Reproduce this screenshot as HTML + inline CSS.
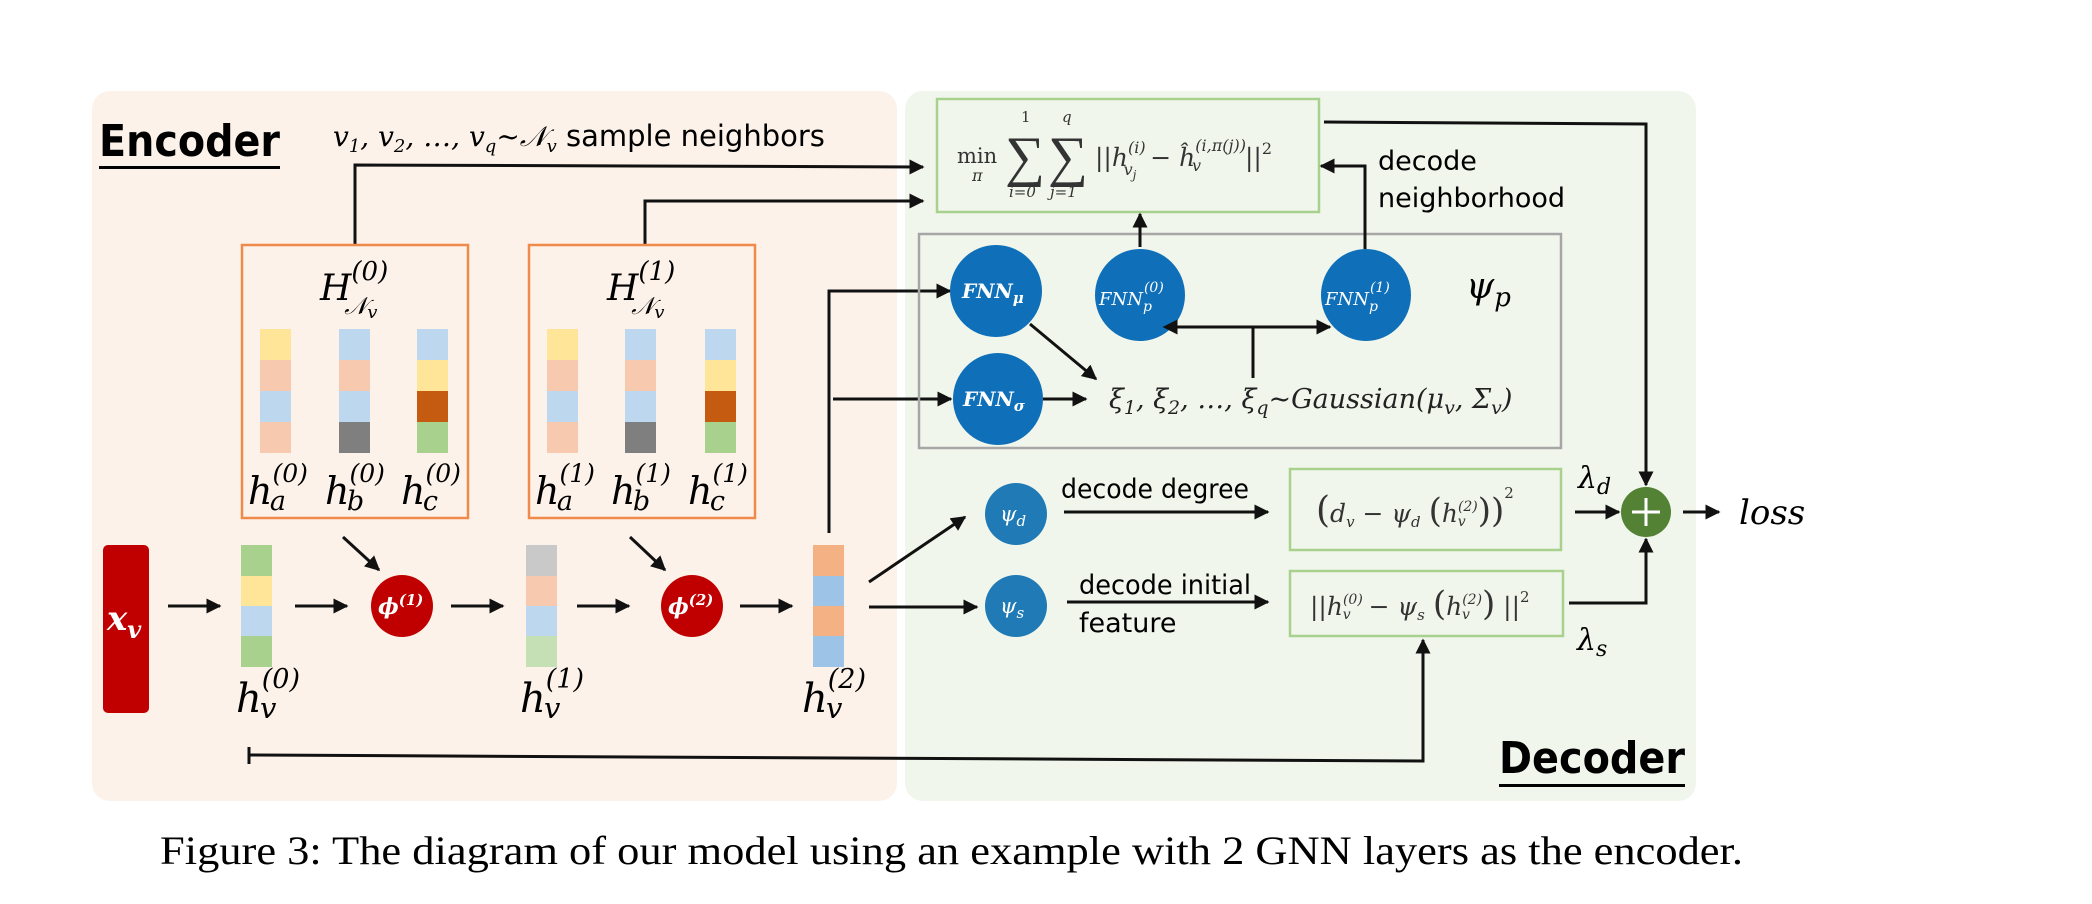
<!DOCTYPE html>
<html><head><meta charset="utf-8"><style>
html,body{margin:0;padding:0;background:#fff}
svg{display:block}
.m{font-family:"DejaVu Serif","Liberation Serif",serif;font-style:italic}
.s{font-family:"DejaVu Sans","Liberation Sans",sans-serif}
</style></head><body>
<svg width="2092" height="904" viewBox="0 0 2092 904" xmlns="http://www.w3.org/2000/svg">
<defs>
<marker id="a" viewBox="0 0 10 10" refX="9" refY="5" markerWidth="5" markerHeight="5" orient="auto"><path d="M0,0 L10,5 L0,10 z" fill="#111"/></marker>
<marker id="as" viewBox="0 0 10 10" refX="1" refY="5" markerWidth="5" markerHeight="5" orient="auto-start-reverse"><path d="M0,0 L10,5 L0,10 z" fill="#111"/></marker>
</defs>
<rect x="92" y="91" width="805" height="710" rx="18" fill="#fcf2ea"/>
<rect x="905" y="91" width="791" height="710" rx="18" fill="#f0f6ec"/>

<text x="99" y="156" class="s" font-weight="bold" font-size="44" fill="#000" textLength="181" lengthAdjust="spacingAndGlyphs">Encoder</text>
<rect x="99" y="166" width="181" height="3" fill="#000"/>
<text x="333" y="146" font-size="28" fill="#000"><tspan class="m">v</tspan><tspan class="m" font-size="18" dy="6">1</tspan><tspan class="m" dy="-6">, v</tspan><tspan class="m" font-size="18" dy="6">2</tspan><tspan class="m" dy="-6">, …, v</tspan><tspan class="m" font-size="18" dy="6">q</tspan><tspan class="m" dy="-6">~𝒩</tspan><tspan class="m" font-size="18" dy="6">v</tspan><tspan class="s" dy="-6" font-size="29">  sample neighbors</tspan></text>

<g stroke="#111" stroke-width="3" fill="none">
<polyline points="355,245 355,165 923,167" marker-end="url(#a)"/>
<polyline points="645,245 645,201 923,201" marker-end="url(#a)"/>
</g>

<rect x="242" y="245" width="226" height="273" fill="none" stroke="#f08a4b" stroke-width="2.5"/>
<rect x="529" y="245" width="226" height="273" fill="none" stroke="#f08a4b" stroke-width="2.5"/>
<text x="320" y="300" class="m" font-size="36">H<tspan font-size="26" dy="-20">(0)</tspan><tspan font-size="24" dx="-44" dy="34">𝒩</tspan><tspan font-size="18" dy="4">v</tspan></text>
<text x="607" y="300" class="m" font-size="36">H<tspan font-size="26" dy="-20">(1)</tspan><tspan font-size="24" dx="-44" dy="34">𝒩</tspan><tspan font-size="18" dy="4">v</tspan></text>

<g>
<rect x="260" y="329" width="31" height="31" fill="#fee598"/><rect x="260" y="360" width="31" height="31" fill="#f7c9ae"/><rect x="260" y="391" width="31" height="31" fill="#bcd7ee"/><rect x="260" y="422" width="31" height="31" fill="#f7c9ae"/>
<rect x="339" y="329" width="31" height="31" fill="#bcd7ee"/><rect x="339" y="360" width="31" height="31" fill="#f7c9ae"/><rect x="339" y="391" width="31" height="31" fill="#bcd7ee"/><rect x="339" y="422" width="31" height="31" fill="#7f7f7f"/>
<rect x="417" y="329" width="31" height="31" fill="#bcd7ee"/><rect x="417" y="360" width="31" height="31" fill="#fee598"/><rect x="417" y="391" width="31" height="31" fill="#c55a11"/><rect x="417" y="422" width="31" height="31" fill="#a9d18e"/>
<rect x="547" y="329" width="31" height="31" fill="#fee598"/><rect x="547" y="360" width="31" height="31" fill="#f7c9ae"/><rect x="547" y="391" width="31" height="31" fill="#bcd7ee"/><rect x="547" y="422" width="31" height="31" fill="#f7c9ae"/>
<rect x="625" y="329" width="31" height="31" fill="#bcd7ee"/><rect x="625" y="360" width="31" height="31" fill="#f7c9ae"/><rect x="625" y="391" width="31" height="31" fill="#bcd7ee"/><rect x="625" y="422" width="31" height="31" fill="#7f7f7f"/>
<rect x="705" y="329" width="31" height="31" fill="#bcd7ee"/><rect x="705" y="360" width="31" height="31" fill="#fee598"/><rect x="705" y="391" width="31" height="31" fill="#c55a11"/><rect x="705" y="422" width="31" height="31" fill="#a9d18e"/>
</g>
<g class="m" font-size="38">
<text x="248" y="504">h<tspan font-size="25" dy="-22">(0)</tspan><tspan font-size="27" dx="-38" dy="28">a</tspan></text>
<text x="325" y="504">h<tspan font-size="25" dy="-22">(0)</tspan><tspan font-size="27" dx="-38" dy="28">b</tspan></text>
<text x="401" y="504">h<tspan font-size="25" dy="-22">(0)</tspan><tspan font-size="27" dx="-38" dy="28">c</tspan></text>
<text x="535" y="504">h<tspan font-size="25" dy="-22">(1)</tspan><tspan font-size="27" dx="-38" dy="28">a</tspan></text>
<text x="611" y="504">h<tspan font-size="25" dy="-22">(1)</tspan><tspan font-size="27" dx="-38" dy="28">b</tspan></text>
<text x="688" y="504">h<tspan font-size="25" dy="-22">(1)</tspan><tspan font-size="27" dx="-38" dy="28">c</tspan></text>
</g>

<rect x="103" y="545" width="46" height="168" rx="5" fill="#c00000"/>
<text x="107" y="630" class="m" font-weight="bold" font-size="34" fill="#fff">x<tspan font-size="24" dy="8">v</tspan></text>
<g>
<rect x="241" y="545" width="31" height="31" fill="#a9d18e"/><rect x="241" y="576" width="31" height="30" fill="#fee598"/><rect x="241" y="606" width="31" height="30" fill="#bcd7ee"/><rect x="241" y="636" width="31" height="31" fill="#a9d18e"/>
<rect x="526" y="545" width="31" height="31" fill="#c9c9c9"/><rect x="526" y="576" width="31" height="30" fill="#f7c9ae"/><rect x="526" y="606" width="31" height="30" fill="#bcd7ee"/><rect x="526" y="636" width="31" height="31" fill="#c5e0b4"/>
<rect x="813" y="545" width="31" height="31" fill="#f4b183"/><rect x="813" y="576" width="31" height="30" fill="#9dc3e6"/><rect x="813" y="606" width="31" height="30" fill="#f4b183"/><rect x="813" y="636" width="31" height="31" fill="#9dc3e6"/>
</g>
<circle cx="402" cy="606" r="31" fill="#c00000"/>
<circle cx="692" cy="606" r="31" fill="#c00000"/>
<text x="378" y="614" class="m" font-weight="bold" font-size="22" fill="#fff">ϕ<tspan font-size="15" dy="-9">(1)</tspan></text>
<text x="668" y="614" class="m" font-weight="bold" font-size="22" fill="#fff">ϕ<tspan font-size="15" dy="-9">(2)</tspan></text>
<g class="m" font-size="40">
<text x="236" y="712">h<tspan font-size="27" dy="-24">(0)</tspan><tspan font-size="29" dx="-40" dy="30">v</tspan></text>
<text x="520" y="712">h<tspan font-size="27" dy="-24">(1)</tspan><tspan font-size="29" dx="-40" dy="30">v</tspan></text>
<text x="802" y="712">h<tspan font-size="27" dy="-24">(2)</tspan><tspan font-size="29" dx="-40" dy="30">v</tspan></text>
</g>
<g stroke="#111" stroke-width="3" fill="none">
<line x1="168" y1="606" x2="220" y2="606" marker-end="url(#a)"/>
<line x1="295" y1="606" x2="347" y2="606" marker-end="url(#a)"/>
<line x1="451" y1="606" x2="503" y2="606" marker-end="url(#a)"/>
<line x1="577" y1="606" x2="629" y2="606" marker-end="url(#a)"/>
<line x1="740" y1="606" x2="792" y2="606" marker-end="url(#a)"/>
<line x1="343" y1="537" x2="379" y2="570" marker-end="url(#a)"/>
<line x1="630" y1="537" x2="665" y2="570" marker-end="url(#a)"/>
<polyline points="829,533 829,291 950,291" marker-end="url(#a)"/>
<line x1="833" y1="399" x2="951" y2="399" marker-end="url(#a)"/>
<line x1="869" y1="582" x2="965" y2="517" marker-end="url(#a)"/>
<line x1="869" y1="607" x2="977" y2="607" marker-end="url(#a)"/>
<polyline points="249,755 1423,761 1423,640" marker-end="url(#a)"/>
<line x1="249" y1="747" x2="249" y2="764"/>
</g>

<rect x="937" y="99" width="382" height="113" fill="none" stroke="#a9d18e" stroke-width="2.5"/>
<g font-family="DejaVu Serif, Liberation Serif, serif" fill="#333">
<text x="957" y="163" font-size="21">min</text>
<text x="972" y="181" font-size="16" font-style="italic">π</text>
<text x="1005" y="175" font-size="56" font-family="Liberation Serif, serif">∑</text>
<text x="1048" y="175" font-size="56" font-family="Liberation Serif, serif">∑</text>
<text x="1021" y="122" font-size="15">1</text>
<text x="1062" y="122" font-size="15" font-style="italic">q</text>
<text x="1009" y="197" font-size="15" font-style="italic">i=0</text>
<text x="1050" y="197" font-size="15" font-style="italic">j=1</text>
<text x="1095" y="166" font-size="25" font-style="italic">||h<tspan font-size="16" dy="-13">(i)</tspan><tspan font-size="16" dx="-22" dy="22">v</tspan><tspan font-size="12" dy="4">j</tspan><tspan dx="6" dy="-13"> − ĥ</tspan><tspan font-size="16" dy="-15">(i,π(j))</tspan><tspan font-size="16" dx="-54" dy="20">v</tspan><tspan dx="44" dy="-5">||</tspan><tspan font-size="16" dy="-12" font-style="normal">2</tspan></text>
</g>

<rect x="919" y="234" width="642" height="214" fill="none" stroke="#a6a6a6" stroke-width="2.5"/>
<text x="1466" y="298" class="m" font-size="36">ψ<tspan font-size="26" dy="8">p</tspan></text>
<g fill="#0f6fb8">
<ellipse cx="996" cy="291" rx="46" ry="46"/>
<ellipse cx="998" cy="399" rx="45" ry="46"/>
<ellipse cx="1140" cy="295" rx="45" ry="46"/>
<ellipse cx="1366" cy="295" rx="45" ry="46"/>
</g>
<g class="m" font-weight="bold" fill="#fff">
<text x="962" y="298" font-size="20">FNN<tspan font-size="15" dy="5">μ</tspan></text>
<text x="963" y="406" font-size="20">FNN<tspan font-size="15" dy="5">σ</tspan></text>
</g>
<g class="m" fill="#fff">
<text x="1099" y="305" font-size="18">FNN<tspan font-size="14" dy="6">p</tspan><tspan font-size="14" dx="-8" dy="-19">(0)</tspan></text>
<text x="1325" y="305" font-size="18">FNN<tspan font-size="14" dy="6">p</tspan><tspan font-size="14" dx="-8" dy="-19">(1)</tspan></text>
</g>
<text x="1109" y="408" class="m" font-size="27" fill="#222">ξ<tspan font-size="19" dy="6">1</tspan><tspan dy="-6">, ξ</tspan><tspan font-size="19" dy="6">2</tspan><tspan dy="-6">, …, ξ</tspan><tspan font-size="19" dy="6">q</tspan><tspan dy="-6">~Gaussian(μ</tspan><tspan font-size="19" dy="6">v</tspan><tspan dy="-6">, Σ</tspan><tspan font-size="19" dy="6">v</tspan><tspan dy="-6">)</tspan></text>
<g stroke="#111" stroke-width="3" fill="none">
<line x1="1030" y1="324" x2="1096" y2="379" marker-end="url(#a)"/>
<line x1="1043" y1="399" x2="1086" y2="399" marker-end="url(#a)"/>
<line x1="1176" y1="327" x2="1330" y2="327" marker-start="url(#as)" marker-end="url(#a)"/>
<line x1="1253" y1="327" x2="1253" y2="378"/>
<line x1="1140" y1="247" x2="1140" y2="214" marker-end="url(#a)"/>
<polyline points="1365,249 1365,166 1321,166" marker-end="url(#a)"/>
<polyline points="1324,122 1646,124 1646,485" marker-end="url(#a)"/>
<polyline points="1569,603 1646,603 1646,539" marker-end="url(#a)"/>
<line x1="1064" y1="512" x2="1268" y2="512" marker-end="url(#a)"/>
<line x1="1067" y1="602" x2="1268" y2="602" marker-end="url(#a)"/>
<line x1="1575" y1="512" x2="1619" y2="512" marker-end="url(#a)"/>
<line x1="1683" y1="512" x2="1719" y2="512" marker-end="url(#a)"/>
</g>
<text x="1378" y="170" class="s" font-size="27">decode</text>
<text x="1378" y="207" class="s" font-size="27">neighborhood</text>

<circle cx="1016" cy="514" r="31" fill="#1f7ab5"/>
<circle cx="1016" cy="606" r="31" fill="#1f7ab5"/>
<text x="1000" y="521" class="m" font-size="21" fill="#fff">ψ<tspan font-size="15" dy="5">d</tspan></text>
<text x="1000" y="613" class="m" font-size="21" fill="#fff">ψ<tspan font-size="15" dy="5">s</tspan></text>
<text x="1061" y="498" class="s" font-size="27" textLength="188" lengthAdjust="spacingAndGlyphs">decode degree</text>
<text x="1079" y="594" class="s" font-size="27" textLength="172" lengthAdjust="spacingAndGlyphs">decode initial</text>
<text x="1079" y="632" class="s" font-size="27">feature</text>

<rect x="1290" y="469" width="271" height="81" fill="none" stroke="#a9d18e" stroke-width="2.5"/>
<rect x="1290" y="571" width="273" height="65" fill="none" stroke="#a9d18e" stroke-width="2.5"/>
<text x="1316" y="522" font-family="DejaVu Serif, Liberation Serif, serif" font-style="italic" font-size="25" fill="#333"><tspan font-size="36" font-style="normal">(</tspan>d<tspan font-size="15" dy="5">v</tspan><tspan dy="-5"> − ψ</tspan><tspan font-size="15" dy="5">d</tspan><tspan dy="-5"> </tspan><tspan font-size="34" font-style="normal">(</tspan>h<tspan font-size="14" dy="-11">(2)</tspan><tspan font-size="14" dx="-20" dy="15">v</tspan><tspan dx="12" dy="-4" font-size="34" font-style="normal">))</tspan><tspan font-size="15" dy="-24" font-style="normal">2</tspan></text>
<text x="1310" y="615" font-family="DejaVu Serif, Liberation Serif, serif" font-style="italic" font-size="25" fill="#333">||h<tspan font-size="14" dy="-11">(0)</tspan><tspan font-size="14" dx="-20" dy="15">v</tspan><tspan dx="10" dy="-4"> − ψ</tspan><tspan font-size="15" dy="5">s</tspan><tspan dy="-5"> </tspan><tspan font-size="34" font-style="normal">(</tspan>h<tspan font-size="14" dy="-11">(2)</tspan><tspan font-size="14" dx="-20" dy="15">v</tspan><tspan dx="12" dy="-4" font-size="34" font-style="normal">)</tspan> ||<tspan font-size="15" dy="-13" font-style="normal">2</tspan></text>

<text x="1578" y="488" class="m" font-size="30">λ<tspan font-size="22" dy="6">d</tspan></text>
<text x="1577" y="650" class="m" font-size="30">λ<tspan font-size="22" dy="6">s</tspan></text>
<circle cx="1646" cy="512" r="25" fill="#548235"/>
<path d="M1632 512 H1660 M1646 498 V526" stroke="#fff" stroke-width="3"/>
<text x="1739" y="524" class="m" font-size="34">loss</text>

<text x="1499" y="773" class="s" font-weight="bold" font-size="44" textLength="186" lengthAdjust="spacingAndGlyphs">Decoder</text>
<rect x="1499" y="784" width="186" height="3" fill="#000"/>

<text x="160" y="864" font-family="Liberation Serif, serif" font-size="40" textLength="1583" lengthAdjust="spacingAndGlyphs">Figure 3: The diagram of our model using an example with 2 GNN layers as the encoder.</text>
</svg>
</body></html>
